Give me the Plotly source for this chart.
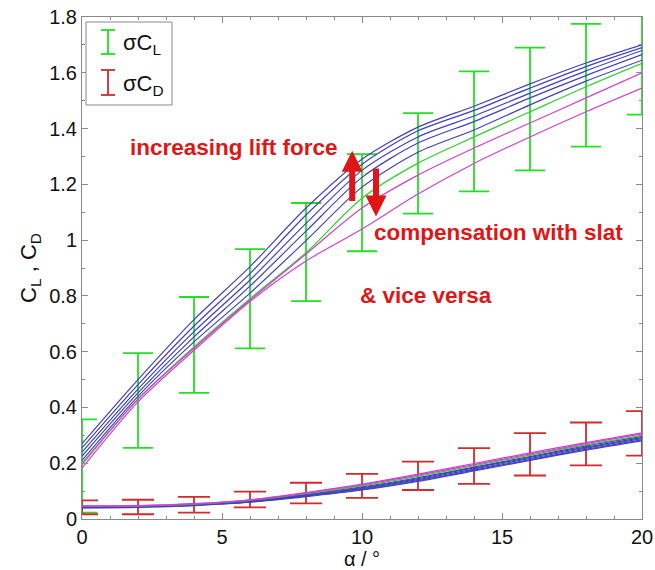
import plotly.graph_objects as go

alpha = [0, 2, 4, 6, 8, 10, 12, 14, 16, 18, 20]

# Lift coefficient curves
cl_blue = [
    [0.27, 0.50, 0.715, 0.905, 1.115, 1.29, 1.405, 1.48, 1.56, 1.635, 1.70],
    [0.255, 0.482, 0.692, 0.88, 1.09, 1.272, 1.392, 1.465, 1.545, 1.622, 1.69],
    [0.24, 0.466, 0.672, 0.857, 1.06, 1.25, 1.37, 1.445, 1.527, 1.607, 1.68],
    [0.225, 0.452, 0.653, 0.835, 1.032, 1.225, 1.348, 1.425, 1.51, 1.59, 1.665],
    [0.21, 0.44, 0.635, 0.81, 0.998, 1.19, 1.315, 1.395, 1.485, 1.57, 1.645],
]
cl_green = [[0.20, 0.43, 0.617, 0.79, 0.955, 1.15, 1.276, 1.37, 1.46, 1.55, 1.634]]
cl_magenta = [
    [0.195, 0.43, 0.612, 0.785, 0.95, 1.115, 1.233, 1.33, 1.42, 1.51, 1.60],
    [0.182, 0.42, 0.605, 0.78, 0.925, 1.04, 1.165, 1.275, 1.37, 1.46, 1.545],
]

# Drag coefficient curves
cd_blue = [
    [0.040, 0.042, 0.048, 0.060, 0.080, 0.104, 0.135, 0.172, 0.210, 0.247, 0.280],
    [0.041, 0.043, 0.049, 0.061, 0.082, 0.106, 0.138, 0.175, 0.213, 0.250, 0.284],
    [0.042, 0.044, 0.050, 0.062, 0.084, 0.109, 0.141, 0.179, 0.217, 0.254, 0.288],
    [0.043, 0.045, 0.051, 0.064, 0.086, 0.112, 0.145, 0.183, 0.221, 0.258, 0.292],
    [0.044, 0.046, 0.052, 0.065, 0.088, 0.115, 0.148, 0.186, 0.224, 0.262, 0.296],
]
cd_green = [[0.045, 0.046, 0.053, 0.067, 0.091, 0.119, 0.153, 0.191, 0.229, 0.266, 0.300]]
cd_magenta = [
    [0.046, 0.047, 0.054, 0.068, 0.093, 0.122, 0.157, 0.195, 0.233, 0.270, 0.305],
    [0.047, 0.048, 0.055, 0.069, 0.095, 0.125, 0.161, 0.199, 0.237, 0.274, 0.309],
]

# Error bars (mean and standard deviation)
cl_mean = [0.19, 0.425, 0.624, 0.79, 0.957, 1.134, 1.275, 1.39, 1.47, 1.555, 1.66]
cl_sigma = [0.167, 0.17, 0.172, 0.178, 0.176, 0.174, 0.18, 0.215, 0.22, 0.22, 0.21]
cd_mean = [0.042, 0.043, 0.051, 0.070, 0.093, 0.119, 0.155, 0.19, 0.232, 0.269, 0.307]
cd_sigma = [0.025, 0.026, 0.028, 0.028, 0.037, 0.043, 0.051, 0.064, 0.076, 0.077, 0.08]

BLUE = "#4040bc"
GREEN = "#30d030"
MAGENTA = "#d040d0"
EB_GREEN = "#22e022"
EB_RED = "#d42a2a"
TXT_RED = "#e01515"
FONT = "Liberation Sans, Arial, sans-serif"

fig = go.Figure()

fig.add_trace(go.Scatter(
    x=alpha, y=cl_mean, mode="markers", marker=dict(color="rgba(0,0,0,0)", size=1),
    error_y=dict(type="data", array=cl_sigma, color=EB_GREEN, thickness=1.8, width=15),
    showlegend=False, hoverinfo="skip"))
fig.add_trace(go.Scatter(
    x=alpha, y=cd_mean, mode="markers", marker=dict(color="rgba(0,0,0,0)", size=1),
    error_y=dict(type="data", array=cd_sigma, color=EB_RED, thickness=1.8, width=16),
    showlegend=False, hoverinfo="skip"))

for group, color in [(cl_blue, BLUE), (cl_green, GREEN), (cl_magenta, MAGENTA),
                     (cd_blue, BLUE), (cd_green, GREEN), (cd_magenta, MAGENTA)]:
    for ys in group:
        fig.add_trace(go.Scatter(x=alpha, y=ys, mode="lines",
                                 line=dict(color=color, width=1.2, shape="spline", smoothing=0.8),
                                 showlegend=False, hoverinfo="skip"))

annos = [
    dict(x=1.65, y=1.333, text="<b>increasing lift force</b>", xanchor="left"),
    dict(x=10.36, y=1.029, text="<b>compensation with slat</b>", xanchor="left"),
    dict(x=9.86, y=0.80, text="<b>& vice versa</b>", xanchor="left"),
]
for a in annos:
    fig.add_annotation(x=a["x"], y=a["y"], text=a["text"], xanchor=a["xanchor"], yanchor="middle",
                       showarrow=False, font=dict(family=FONT, size=22.5, color=TXT_RED))

# arrows
fig.add_annotation(x=9.65, y=1.32, ax=9.65, ay=1.135, xref="x", yref="y", axref="x", ayref="y",
                   showarrow=True, arrowhead=2, arrowsize=0.7, arrowwidth=6, arrowcolor=TXT_RED, text="")
fig.add_annotation(x=10.5, y=1.085, ax=10.5, ay=1.262, xref="x", yref="y", axref="x", ayref="y",
                   showarrow=True, arrowhead=2, arrowsize=0.7, arrowwidth=6, arrowcolor=TXT_RED, text="")

# custom legend
def px2paper(px, py):
    return (px - 82) / 560.0, (519 - py) / 502.0

x0, y1 = px2paper(86, 22)
x1, y0 = px2paper(172, 105)
fig.add_shape(type="rect", xref="paper", yref="paper", x0=x0, y0=y0, x1=x1, y1=y1,
              line=dict(color="#888888", width=1), fillcolor="white", layer="above")
for (ytop, ybot, col, label) in [(30, 54, EB_GREEN, "σC<sub>L</sub>"), (70, 95, EB_RED, "σC<sub>D</sub>")]:
    cx, t = px2paper(108, ytop)
    _, b = px2paper(108, ybot)
    l, _ = px2paper(101, 0)
    r, _ = px2paper(115, 0)
    fig.add_shape(type="line", xref="paper", yref="paper", x0=cx, x1=cx, y0=b, y1=t,
                  line=dict(color=col, width=1.8), layer="above")
    fig.add_shape(type="line", xref="paper", yref="paper", x0=l, x1=r, y0=t, y1=t,
                  line=dict(color=col, width=1.8), layer="above")
    fig.add_shape(type="line", xref="paper", yref="paper", x0=l, x1=r, y0=b, y1=b,
                  line=dict(color=col, width=1.8), layer="above")
    tx, ty = px2paper(121, (ytop + ybot) / 2 + 2)
    fig.add_annotation(xref="paper", yref="paper", x=tx, y=ty, text=label, showarrow=False,
                       xanchor="left", yanchor="middle", font=dict(family=FONT, size=22, color="#111111"))

axis_common = dict(showline=True, linecolor="#8a8a8a", linewidth=1, mirror="allticks",
                   ticks="inside", ticklen=6, tickcolor="#8a8a8a", showgrid=False, zeroline=False,
                   automargin=False, tickfont=dict(family=FONT, size=20, color="#111111"))

fig.update_xaxes(range=[0, 20], tick0=0, dtick=5,
                 minor=dict(ticks="inside", ticklen=3, dtick=1, tickcolor="#8a8a8a", showgrid=False),
                 title=dict(text="α / °", font=dict(family=FONT, size=20, color="#111111"), standoff=1),
                 **axis_common)
fig.update_yaxes(range=[0, 1.8], tick0=0, dtick=0.2,
                 minor=dict(ticks="inside", ticklen=3, dtick=0.1, tickcolor="#8a8a8a", showgrid=False),
                 title=dict(text="C<sub>L</sub> , C<sub>D</sub>", font=dict(family=FONT, size=22, color="#111111"), standoff=6),
                 **axis_common)

fig.update_layout(width=655, height=570, margin=dict(l=82, r=13, t=17, b=51),
                  plot_bgcolor="white", paper_bgcolor="white", showlegend=False,
                  font=dict(family=FONT))

fig.write_html("out.html")
